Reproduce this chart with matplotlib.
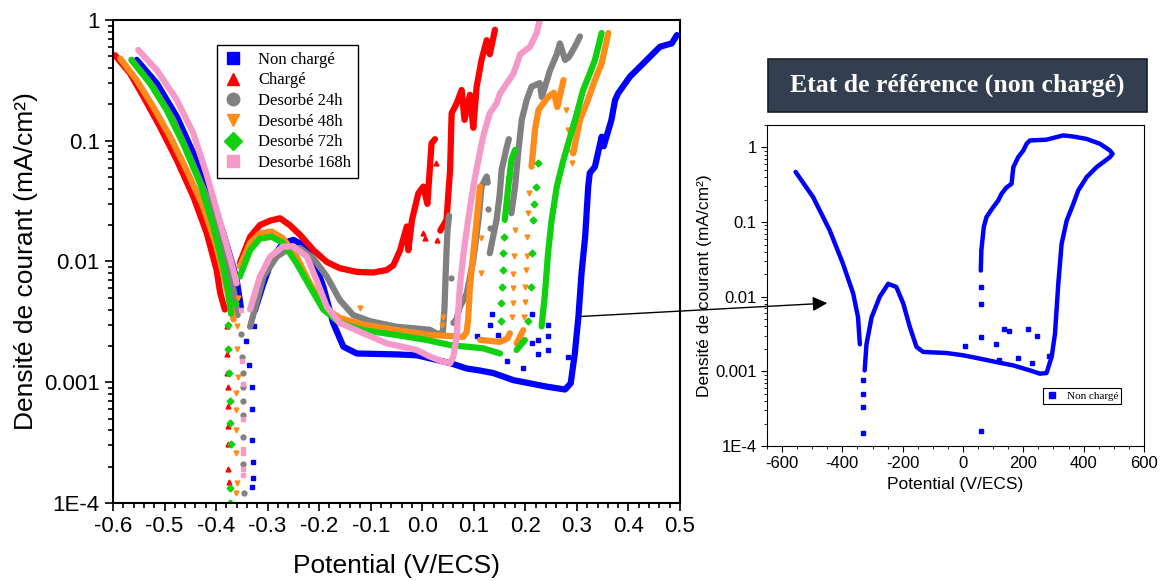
import numpy as np
import matplotlib
matplotlib.use("Agg")
import matplotlib.pyplot as plt
from matplotlib.lines import Line2D
from matplotlib.patches import Rectangle, ConnectionPatch
from matplotlib.ticker import MultipleLocator, FixedLocator, FixedFormatter, LogLocator, NullFormatter

nan = float("nan")

# ---- courbes principales (V/ECS, mA/cm2) ; nan = coupure entre branches ----
nc_x = [-0.554, -0.515, -0.476, -0.444, -0.412, -0.386, -0.367, -0.360, -0.352, nan,
        -0.325, -0.308, -0.289, -0.270, -0.250, -0.231, -0.211, -0.192, -0.173, -0.153, -0.127,
        -0.05, -0.01, 0.054, 0.086, 0.112, 0.138, 0.177, 0.241, 0.277, 0.288, 0.296,
        0.303, 0.309, 0.316, 0.322, 0.325, 0.335, 0.348, 0.352, 0.367, 0.374, 0.380, 0.403,
        0.429, 0.461, 0.484, 0.494]
nc_y = [0.467, 0.299, 0.158, 0.0787, 0.0367, 0.0171, 0.0091, 0.007, 0.0042, nan,
        0.0039, 0.0066, 0.011, 0.0142, 0.0151, 0.0137, 0.0103, 0.0062, 0.0031, 0.00197, 0.00173,
        0.0017, 0.00167, 0.00144, 0.0013, 0.00125, 0.00119, 0.00104, 0.00092, 0.00087,
        0.00098, 0.00174, 0.0035, 0.008, 0.016, 0.042, 0.054, 0.061, 0.108, 0.09, 0.149, 0.217,
        0.247, 0.34, 0.438, 0.60, 0.64, 0.75]
nc_dx = [-0.341, -0.336, -0.331, -0.331, -0.331, -0.329, -0.331, -0.328, -0.327, 0.135, 0.131,
         0.147, 0.1055, 0.212, 0.212, 0.225, 0.244, 0.244, 0.244, 0.283, 0.165, 0.225, 0.196]
nc_dy = [0.0022, 0.0014, 0.00092, 0.0006, 0.00033, 0.00022, 0.000136, 0.00016, 0.0029, 0.0037,
         0.003, 0.00246, 0.0024, 0.0037, 0.0021, 0.00224, 0.003, 0.0024, 0.00185, 0.00163,
         0.0015, 0.0017, 0.0013]

ch_x = [-0.596, -0.567, -0.541, -0.509, -0.476, -0.444, -0.418, -0.399, -0.392, -0.383, nan,
        -0.354, -0.334, -0.315, -0.295, -0.276, -0.257, -0.237, -0.211, -0.185, -0.160, -0.127,
        -0.095, -0.069, -0.056, -0.043, -0.030, -0.027, -0.020, -0.0076, 0.002, 0.010, 0.018,
        0.0246, nan,
        0.035, 0.047, 0.054, 0.057, 0.0667, 0.0764, 0.082, 0.0925, 0.099, 0.1055, 0.115, 0.125,
        0.131, 0.141]
ch_y = [0.51, 0.362, 0.232, 0.131, 0.069, 0.0344, 0.0171, 0.0085, 0.0055, 0.0040, nan,
        0.0097, 0.016, 0.020, 0.0218, 0.0228, 0.020, 0.0166, 0.0124, 0.0099, 0.0088, 0.0082,
        0.0081, 0.0085, 0.0093, 0.0124, 0.0195, 0.0124, 0.022, 0.0367, 0.0417, 0.030, 0.095,
        0.103, nan,
        0.018, 0.0221, 0.0573, 0.169, 0.204, 0.263, 0.149, 0.24, 0.128, 0.28, 0.467, 0.68,
        0.52, 0.83]
ch_dx = [-0.379, -0.378, -0.378, -0.377, -0.376, -0.376, -0.376, -0.376, -0.375, -0.368,
         0.026, 0.028, 0.006, 0.002]
ch_dy = [0.0029, 0.0017, 0.0012, 0.00092, 0.00063, 0.00043, 0.00031, 0.00019, 0.00015, 0.005,
         0.066, 0.015, 0.0155, 0.0171]

d24_x = [-0.564, -0.522, -0.483, -0.451, -0.418, -0.392, -0.373, -0.365, -0.358, nan,
         -0.334, -0.308, -0.282, -0.257, -0.237, -0.211, -0.185, -0.160, -0.134, -0.101,
         -0.05, 0.015, 0.030, 0.040, 0.043, 0.045, 0.047, 0.049, 0.052, nan,
         0.0604, 0.066, 0.073, 0.086, 0.094, 0.099, 0.104, 0.109, 0.115, 0.125, 0.127, nan,
         0.131, 0.136, 0.144, 0.150, 0.154, 0.164, 0.168, nan,
         0.173, 0.180, 0.186, 0.193, 0.2025, 0.212, 0.228, 0.232, 0.248, 0.261, 0.267, 0.277,
         0.284, 0.296, 0.306]
d24_y = [0.467, 0.28, 0.149, 0.0738, 0.0344, 0.016, 0.008, 0.0055, 0.0036, nan,
         0.00288, 0.0075, 0.011, 0.0129, 0.0129, 0.0106, 0.0075, 0.0048, 0.0036, 0.0032,
         0.00288, 0.00272, 0.0025, 0.0026, 0.004, 0.007, 0.012, 0.018, 0.024, nan,
         0.0031, 0.0033, 0.0042, 0.0054, 0.008, 0.0103, 0.015, 0.0221, 0.0417, 0.0505, 0.045, nan,
         0.0117, 0.015, 0.022, 0.035, 0.0573, 0.089, 0.103, nan,
         0.0251, 0.0417, 0.0787, 0.149, 0.217, 0.28, 0.30, 0.23, 0.385, 0.52, 0.64, 0.467,
         0.49, 0.60, 0.73]
d24_dx = [-0.352, -0.349, -0.347, -0.347, -0.347, -0.347, -0.347, -0.347, -0.346, 0.055,
          0.128, 0.131, 0.170, 0.168]
d24_dy = [0.0025, 0.00163, 0.0012, 0.00092, 0.0007, 0.00054, 0.00035, 0.00021, 0.00012, 0.0073,
          0.027, 0.019, 0.030, 0.050]

d48_x = [-0.586, -0.554, -0.522, -0.489, -0.457, -0.425, -0.399, -0.383, -0.376, -0.366, nan,
         -0.354, -0.334, -0.315, -0.292, -0.270, -0.244, -0.218, -0.192, -0.160, -0.114,
         -0.05, 0.015, 0.08, 0.086, 0.089, 0.0925, 0.099, 0.1055, 0.112, nan,
         0.112, 0.13, 0.151, 0.165, 0.170, nan,
         0.183, 0.196, nan,
         0.212, 0.2186, 0.2255, 0.244, 0.255, 0.262, 0.274, nan,
         0.293, 0.306, 0.319, 0.335, 0.348, 0.361]
d48_y = [0.48, 0.318, 0.191, 0.108, 0.057, 0.0284, 0.0133, 0.007, 0.0051, 0.0033, nan,
         0.0091, 0.0142, 0.0171, 0.0177, 0.0155, 0.011, 0.0066, 0.0042, 0.0034, 0.003,
         0.0027, 0.00246, 0.00238, 0.0026, 0.0033, 0.0062, 0.0117, 0.0221, 0.0417, nan,
         0.00224, 0.0022, 0.00216, 0.0023, 0.00254, nan,
         0.0021, 0.0027, nan,
         0.061, 0.123, 0.18, 0.23, 0.25, 0.19, 0.318, nan,
         0.0787, 0.149, 0.204, 0.318, 0.438, 0.78]
d48_dx = [-0.36, -0.360, -0.358, -0.361, -0.362, -0.361, -0.362, -0.36, -0.361, -0.358, -0.121,
          0.040, 0.038, 0.113, 0.114, 0.175, 0.177, 0.177, 0.177, 0.178, 0.179, 0.198, 0.199,
          0.200, 0.201, 0.203, 0.204, 0.206, 0.207, 0.279, 0.283, 0.288, 0.290]
d48_dy = [0.0029, 0.0019, 0.0011, 0.00082, 0.00059, 0.0004, 0.00026, 0.000146, 0.00012, 0.005,
          0.0041, 0.0035, 0.003, 0.0155, 0.008, 0.0035, 0.0045, 0.006, 0.0079, 0.011, 0.0181,
          0.0035, 0.0046, 0.0062, 0.0085, 0.011, 0.016, 0.025, 0.0367, 0.18, 0.123, 0.08, 0.065]

d72_x = [-0.564, -0.528, -0.496, -0.464, -0.431, -0.405, -0.386, -0.376, -0.371, nan,
         -0.354, -0.334, -0.315, -0.292, -0.270, -0.244, -0.218, -0.192, -0.160, -0.114,
         -0.05, 0.0085, 0.054, 0.118, 0.151, nan,
         0.160, 0.167, 0.173, 0.18, nan,
         0.183, 0.199, nan,
         0.2315, 0.238, 0.244, 0.251, 0.261, 0.274, 0.287, 0.30, 0.312, 0.325, 0.335, 0.348]
d72_y = [0.467, 0.299, 0.18, 0.095, 0.0444, 0.0194, 0.0091, 0.0055, 0.0037, nan,
         0.0075, 0.0124, 0.0155, 0.016, 0.0142, 0.0097, 0.0062, 0.004, 0.0031, 0.0027,
         0.00246, 0.00224, 0.00203, 0.00191, 0.00173, nan,
         0.0221, 0.0417, 0.0697, 0.084, nan,
         0.00185, 0.00224, nan,
         0.0029, 0.0054, 0.0117, 0.0221, 0.0417, 0.0697, 0.108, 0.169, 0.263, 0.36, 0.467, 0.78]
d72_dx = [-0.376, -0.376, -0.374, -0.372, -0.372, -0.371, -0.372, -0.372, -0.363, 0.152, 0.153,
          0.154, 0.156, 0.157, 0.158, 0.205, 0.210, 0.212, 0.215, 0.217, 0.221, 0.224]
d72_dy = [0.003, 0.0019, 0.0012, 0.0007, 0.00046, 0.00031, 0.000132, 0.0001, 0.0045, 0.0032,
          0.0045, 0.0062, 0.0085, 0.0117, 0.016, 0.0032, 0.0062, 0.0117, 0.0221, 0.03, 0.0417,
          0.065]

d168_x = [-0.551, -0.515, -0.476, -0.444, -0.418, -0.400, -0.386, -0.370, -0.36, nan,
          -0.334, -0.315, -0.295, -0.270, -0.250, -0.224, -0.205, -0.185, -0.160, -0.114,
          -0.069, -0.011, 0.015, 0.040, 0.054, 0.0604, 0.0667, 0.073, 0.08, 0.089, 0.099, 0.109,
          0.118, 0.131, 0.144, 0.151, 0.177, 0.19, 0.209, 0.222, 0.228]
d168_y = [0.565, 0.385, 0.217, 0.115, 0.052, 0.028, 0.0171, 0.0097, 0.0066, nan,
          0.004, 0.0075, 0.011, 0.0133, 0.0133, 0.011, 0.007, 0.0042, 0.0031, 0.00254,
          0.0021, 0.00185, 0.00163, 0.00148, 0.00144, 0.00163, 0.00238, 0.0062, 0.0117, 0.0221,
          0.0417, 0.0697, 0.108, 0.169, 0.204, 0.247, 0.36, 0.52, 0.6, 0.78, 1.0]
d168_dx = [-0.352, -0.349, -0.347, -0.347, -0.347, -0.347, -0.347, -0.348]
d168_dy = [0.004, 0.0015, 0.00096, 0.0005, 0.00028, 0.00026, 0.00019, 0.00017]

labels = ["Non chargé", "Chargé", "Desorbé 24h", "Desorbé 48h", "Desorbé 72h", "Desorbé 168h"]
colors = ["#0000FF", "#FF0000", "#808080", "#FF8C1A", "#10D010", "#F59AC8"]
markers = ["s", "^", "o", "v", "D", "s"]

# ---- encart : état de référence (mV/ECS) ----
ref_x = [-555, -497, -442, -398, -364, -348, -342, nan,
         -326, -320, -303, -276, -248, -221, -198, -176, -154, -132, -55, 1, 56, 111, 167, 222,
         255, 277, 294, 305, 316, 327, 344, 366, 382, 410, 443, 487, 496, 487, 454, 410, 366,
         332, 277, 222, 211, 200, 183, 167, 161, 144, 128, 117, 100, 78, 69, 61, 59]
ref_y = [0.47, 0.216, 0.0776, 0.0277, 0.011, 0.0053, 0.0023, nan,
         0.00103, 0.0023, 0.0053, 0.010, 0.0149, 0.0135, 0.0081, 0.0039, 0.00212, 0.00182,
         0.00176, 0.00164, 0.00148, 0.00133, 0.0012, 0.00103, 0.00093, 0.00095, 0.00156,
         0.00317, 0.0149, 0.051, 0.105, 0.176, 0.265, 0.40, 0.545, 0.74, 0.82, 0.91, 1.12, 1.30,
         1.40, 1.45, 1.27, 1.24, 1.12, 0.91, 0.74, 0.545, 0.326, 0.29, 0.24, 0.195, 0.158,
         0.117, 0.086, 0.042, 0.0224]
ref_dx = [-333, -331, -331, -330, 59, 59, 59, 59, 109, 137, 154, 216, 244, 183, 286, 8, 120, 230]
ref_dy = [0.00076, 0.00033, 0.000147, 0.0005, 0.0133, 0.0081, 0.0029, 0.00016, 0.0023, 0.0037,
          0.0035, 0.0037, 0.003, 0.0015, 0.0016, 0.0022, 0.0014, 0.0013]

plt.rcParams['axes.unicode_minus'] = False
plt.rcParams['font.family'] = ['Liberation Sans', 'DejaVu Sans']

fig = plt.figure(figsize=(11.61, 5.81), dpi=100)
ax = fig.add_axes([0.0973, 0.1343, 0.4884, 0.8313])

series = [(nc_x, nc_y, nc_dx, nc_dy), (ch_x, ch_y, ch_dx, ch_dy),
          (d24_x, d24_y, d24_dx, d24_dy), (d48_x, d48_y, d48_dx, d48_dy),
          (d72_x, d72_y, d72_dx, d72_dy), (d168_x, d168_y, d168_dx, d168_dy)]
for (x, y, dx, dy), c, m in zip(series, colors, markers):
    ax.plot(x, y, color=c, lw=4.5, solid_capstyle='round', solid_joinstyle='round')
    ax.plot(dx, dy, ls='none', marker=m, ms=3.5, color=c, mec=c)

ax.set_yscale('log')
ax.set_xlim(-0.6, 0.5)
ax.set_ylim(1e-4, 1)
ax.xaxis.set_minor_locator(MultipleLocator(0.02))
ax.set_xticks(np.round(np.arange(-0.6, 0.51, 0.1), 1))
ax.set_xticklabels(["-0.6", "-0.5", "-0.4", "-0.3", "-0.2", "-0.1", "0.0", "0.1", "0.2", "0.3", "0.4", "0.5"])
ax.yaxis.set_major_locator(FixedLocator([1e-4, 1e-3, 1e-2, 1e-1, 1]))
ax.yaxis.set_major_formatter(FixedFormatter(["1E-4", "0.001", "0.01", "0.1", "1"]))
ax.yaxis.set_minor_locator(LogLocator(base=10, subs=np.arange(2, 10)))
ax.yaxis.set_minor_formatter(NullFormatter())
ax.tick_params(which='both', direction='out', top=False, right=False, labelsize=16, width=1.2)
ax.tick_params(which='major', length=6)
ax.tick_params(which='minor', length=3.5)
for s in ax.spines.values():
    s.set_linewidth(1.5)
ax.set_xlabel("Potential (V/ECS)", fontsize=19, labelpad=12)
ax.set_ylabel("Densité de courant (mA/cm²)", fontsize=19, labelpad=4)

handles = [Line2D([], [], ls='none', marker=m, color=c, ms=9) for c, m in zip(colors, markers)]
leg = ax.legend(handles, labels, loc='upper left', bbox_to_anchor=(0.183, 0.948), borderaxespad=0,
                prop={'family': 'Liberation Serif', 'size': 12}, fancybox=False, framealpha=1,
                edgecolor='black', handlelength=1.2, handletextpad=0.9, labelspacing=0.28,
                borderpad=0.4)
leg.get_frame().set_linewidth(1.0)

# encart
ax2 = fig.add_axes([0.6606, 0.2324, 0.3247, 0.5525])
ax2.plot(ref_x, ref_y, color="#0000FF", lw=3.2, solid_capstyle='round', solid_joinstyle='round')
ax2.plot(ref_dx, ref_dy, ls='none', marker='s', ms=2.5, color="#0000FF")
ax2.set_yscale('log')
ax2.set_xlim(-650, 600)
ax2.set_ylim(1e-4, 2)
ax2.xaxis.set_major_locator(MultipleLocator(200))
ax2.xaxis.set_minor_locator(MultipleLocator(50))
ax2.yaxis.set_major_locator(FixedLocator([1e-4, 1e-3, 1e-2, 1e-1, 1]))
ax2.yaxis.set_major_formatter(FixedFormatter(["1E-4", "0.001", "0.01", "0.1", "1"]))
ax2.yaxis.set_minor_locator(LogLocator(base=10, subs=np.arange(2, 10)))
ax2.yaxis.set_minor_formatter(NullFormatter())
ax2.tick_params(which='both', direction='out', top=False, right=False, labelsize=12)
ax2.tick_params(which='major', length=4)
ax2.tick_params(which='minor', length=2.5)
ax2.set_xlabel("Potential (V/ECS)", fontsize=12.5, labelpad=4)
ax2.set_ylabel("Densité de courant (mA/cm²)", fontsize=12.5, labelpad=2)
leg2 = ax2.legend([Line2D([], [], ls='none', marker='s', color="#0000FF", ms=4)], ["Non chargé"],
                  loc='lower right', bbox_to_anchor=(0.94, 0.13), borderaxespad=0,
                  prop={'family': 'Liberation Serif', 'size': 8}, fancybox=False, framealpha=1,
                  edgecolor='black', handlelength=1.0, borderpad=0.3)
leg2.get_frame().set_linewidth(0.8)

# bandeau titre
fig.patches.append(Rectangle((768 / 1161, 1 - 112 / 581), 379 / 1161, 53 / 581,
                             transform=fig.transFigure, facecolor="#333F50",
                             edgecolor="#1a1f28", lw=1.2))
fig.text(957.5 / 1161, 1 - 85.5 / 581, "Etat de référence (non chargé)", color="white",
         fontsize=18.5, fontweight='bold', family='Liberation Serif', ha='center', va='center')

# flèche
arrow = ConnectionPatch(xyA=(0.305, 0.0035), coordsA=ax.transData,
                        xyB=(-450, 0.0082), coordsB=ax2.transData,
                        arrowstyle='-|>', mutation_scale=22, color='black', lw=1.0)
fig.add_artist(arrow)

fig.savefig("out.png", dpi=100)
